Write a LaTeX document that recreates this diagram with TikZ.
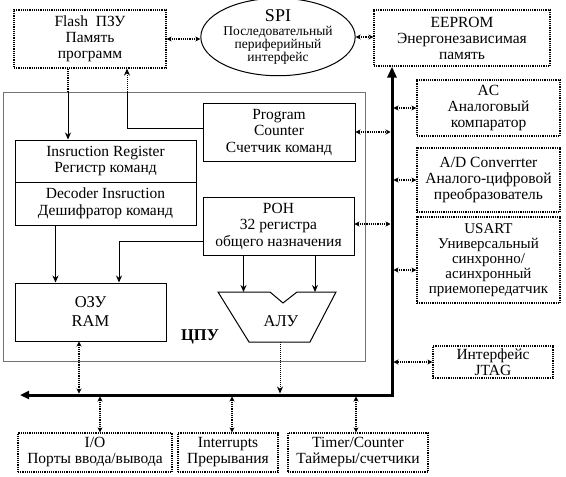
\documentclass[tikz,border=0pt]{standalone}
\usepackage{fontspec}
\setmainfont{Liberation Serif}
\newfontfamily\timesfont{Liberation Serif}
\usetikzlibrary{arrows.meta,shapes.geometric,calc}

\begin{document}
\begin{tikzpicture}[
  x=1pt, y=-1pt,
  font=\timesfont,
  per/.style={draw, densely dotted, line width=1.2pt, align=center, inner sep=0pt, font=\timesfont\fontsize{15.5}{16}\selectfont},
  blk/.style={draw, line width=1pt, align=center, inner sep=0pt, font=\timesfont\fontsize{15.5}{16.5}\selectfont},
  arr/.style={-{Stealth[length=7pt,width=6pt]}, line width=1pt},
  darr/.style={{Stealth[length=5pt,width=5pt]}-{Stealth[length=5pt,width=5pt]}, densely dotted, line width=1.2pt},
  bus/.style={line width=3pt}
]
\useasboundingbox (0,0) rectangle (566,477);

% peripherals
\node[per, minimum width=152pt, minimum height=58pt] (flash) at (90,39) {Flash\enspace ПЗУ\\Память\\программ};
\node[draw, ellipse, line width=1pt, align=center, inner sep=0pt, minimum width=153pt, minimum height=70pt,
  font=\timesfont\fontsize{13.5}{13}\selectfont] (spi) at (278,37)
  {{\fontsize{18}{17}\selectfont SPI}\\[1pt]Последовательный\\периферийный\\интерфейс};
\node[per, minimum width=176pt, minimum height=56pt] (eeprom) at (462,38) {EEPROM\\Энергонезависимая\\память};
\node[per, minimum width=143pt, minimum height=56pt] (ac) at (488.5,108) {AC\\Аналоговый\\компаратор};
\node[per, minimum width=143pt, minimum height=64pt] (adc) at (488.5,180) {A/D Converrter\\Аналого-цифровой\\преобразователь};
\node[per, minimum width=143pt, minimum height=86pt, font=\timesfont\fontsize{15}{15}\selectfont] (usart) at (488.5,260)
  {USART\\Универсальный\\синхронно/\\асинхронный\\приемопередатчик};
\node[per, minimum width=120pt, minimum height=32pt] (jtag) at (493,362) {Интерфейс\\JTAG};
\node[per, minimum width=154pt, minimum height=39pt] (io) at (95,452.5) {I/O\\Порты ввода/вывода};
\node[per, minimum width=100pt, minimum height=39pt] (irq) at (228,452.5) {Interrupts\\Прерывания};
\node[per, minimum width=140pt, minimum height=39pt] (tmr) at (358,452.5) {Timer/Counter\\Таймеры/счетчики};

% CPU
\node[draw=black!55, line width=0.8pt, minimum width=362pt, minimum height=269pt, inner sep=0pt] (cpu) at (184,226.5) {};
\node[font=\timesfont\bfseries\fontsize{16.5}{16}\selectfont] (cpulbl) at (200,337) {ЦПУ};
\node[blk, minimum width=152pt, minimum height=58pt] (pc) at (279,132) {Program\\Counter\\Счетчик команд};
\node[blk, minimum width=181pt, minimum height=42pt] (ir) at (105.5,161) {Insruction Register\\Регистр команд};
\node[blk, minimum width=181pt, minimum height=43pt] (dec) at (105.5,203.5) {Decoder Insruction\\Дешифратор команд};
\node[blk, minimum width=151pt, minimum height=58pt, font=\timesfont\fontsize{16.5}{19}\selectfont] (ram) at (90.5,312) {ОЗУ\\RAM};
\node[blk, minimum width=151pt, minimum height=58pt] (ron) at (278.5,226) {РОН\\32 регистра\\общего назначения};

% ALU
\coordinate (alu-a) at (218,292);
\coordinate (alu-b) at (270,292);
\coordinate (alu-c) at (283,303);
\coordinate (alu-d) at (297,292);
\coordinate (alu-e) at (336,292);
\coordinate (alu-f) at (310,342);
\coordinate (alu-g) at (249,342);
\coordinate (alu-out) at (280,342);
\draw[line width=1pt] (alu-a) -- (alu-b) -- (alu-c) -- (alu-d) -- (alu-e) -- (alu-f) -- (alu-g) -- cycle;
\node[font=\timesfont\fontsize{16.5}{16}\selectfont] (alu) at (281,321) {АЛУ};

% bus
\coordinate (buscorner) at (392,395);
\coordinate (busend) at (20,395);
\draw[bus, {Triangle[length=11pt,width=9pt]}-{Triangle[length=9pt,width=8pt]}]
  (eeprom.south -| buscorner) -- (buscorner) -- (busend);

% top links
\draw[darr] (flash.east) -- (flash.east -| spi.west);
\draw[darr] (spi.east) -- (spi.east -| eeprom.west);

% flash <-> cpu
\draw[line width=1.2pt, densely dotted] ([xshift=-22pt]flash.south) -- ([xshift=-22pt]flash.south |- cpu.north);
\draw[arr] ([xshift=-22pt]flash.south |- cpu.north) -- ([xshift=-22pt]flash.south |- ir.north);
\draw[line width=1pt] ([yshift=4pt]pc.west) -| ([xshift=37pt]flash.south |- cpu.north);
\draw[arr, densely dotted] ([xshift=37pt]flash.south |- cpu.north) -- ([xshift=37pt]flash.south);

% inside cpu
\draw[arr] ([xshift=-50pt]dec.south) -- ([xshift=-50pt]dec.south |- ram.north);
\draw[arr, {Stealth[length=7pt,width=6pt]}-] ([xshift=28.5pt]ram.north) |- ([yshift=-15pt]ron.west);
\draw[arr] ([xshift=-35pt]ron.south) -- ([xshift=-35pt]ron.south |- alu-a);
\draw[arr] ([xshift=36.5pt]ron.south) -- ([xshift=36.5pt]ron.south |- alu-a);

% to the bus
\draw[darr, shorten >=1.5pt] (pc.east) -- (pc.east -| buscorner);
\draw[darr, shorten >=1.5pt] ([yshift=2pt]ron.east) -- ([yshift=2pt]ron.east -| buscorner);
\draw[darr, shorten >=1.5pt] ([xshift=-11.5pt]ram.south) -- ([xshift=-11.5pt]ram.south |- buscorner);
\draw[arr, densely dotted, shorten >=1.5pt] (alu-out) -- (alu-out |- buscorner);
\foreach \n in {ac,adc,jtag}
  \draw[darr, shorten >=1.5pt] (\n.west) -- (\n.west -| buscorner);
\draw[darr, shorten >=1.5pt] ([yshift=-10pt]usart.west) -- ([yshift=-10pt]usart.west -| buscorner);
\draw[darr, shorten >=1.5pt] ([xshift=5pt]io.north) -- ([xshift=5pt]io.north |- buscorner);
\draw[darr, shorten >=1.5pt] ([xshift=4pt]irq.north) -- ([xshift=4pt]irq.north |- buscorner);
\draw[darr, shorten >=1.5pt] ([xshift=-2pt]tmr.north) -- ([xshift=-2pt]tmr.north |- buscorner);

\end{tikzpicture}
\end{document}
